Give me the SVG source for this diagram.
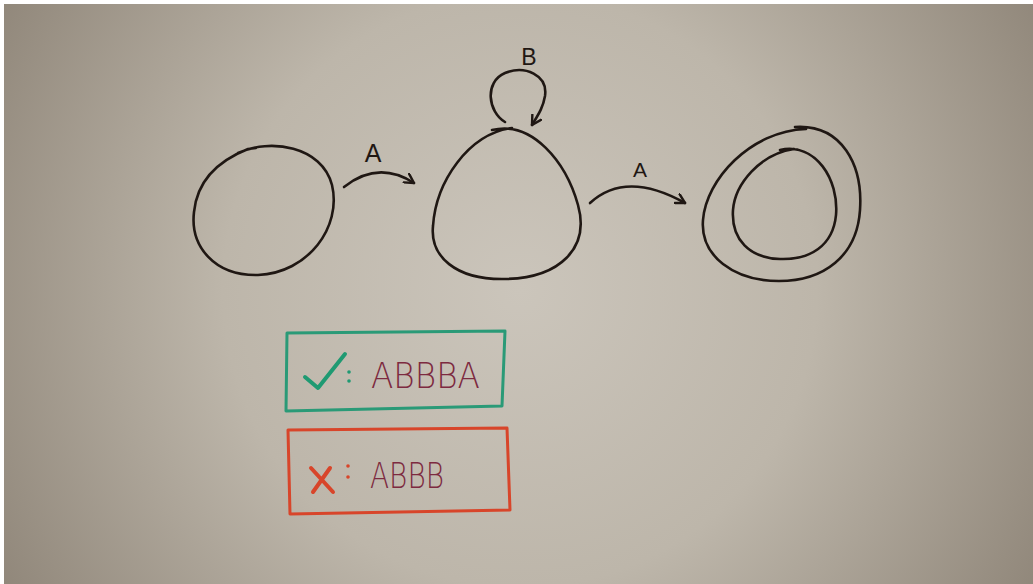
<svg xmlns="http://www.w3.org/2000/svg" width="1033" height="584" viewBox="0 0 1033 584">
<style>
.ink{fill:none;stroke:#1f1713;stroke-width:2.6;stroke-linecap:round;stroke-linejoin:round}
.lbl{font-family:"Liberation Sans",Arial,sans-serif;fill:#1f1713}
.word{font-family:"DejaVu Sans","Liberation Sans",Arial,sans-serif;font-weight:200;fill:#7d2a40;font-size:36px}
.okc{fill:#1f9a72}
.noc{fill:#d8452a}
</style>
<defs>
<radialGradient id="bg" gradientUnits="userSpaceOnUse" cx="520" cy="290" r="660">
<stop offset="0" stop-color="#cbc5bb"/>
<stop offset="0.45" stop-color="#bdb6aa"/>
<stop offset="1" stop-color="#877d70"/>
</radialGradient>
<marker id="ah" viewBox="0 0 12 12" refX="10" refY="6" markerWidth="12" markerHeight="12" markerUnits="userSpaceOnUse" orient="auto">
<path d="M1,1 L10,6 L1,11" fill="none" stroke="#1f1713" stroke-width="2.4" stroke-linecap="round" stroke-linejoin="round"/>
</marker>
</defs>
<rect x="0" y="0" width="1033" height="584" fill="#ffffff"/>
<rect x="4" y="4" width="1029" height="580" fill="url(#bg)"/>

<g id="node-start">
<path class="ink" d="M238,153 C270,138 322,146 332,185 C342,227 308,273 258,275 C214,276 190,246 194,212 C197,182 215,162 248,149 L256,148"/>
</g>
<g id="node-middle">
<path class="ink" d="M492,130 C532,120 566,162 578,205 C590,248 560,278 505,279 C455,280 430,256 433,226 C436,182 468,134 512,128"/>
</g>
<g id="node-accept">
<path class="ink" d="M795,127 C842,124 863,165 860,210 C857,256 824,281 779,281 C734,281 700,256 703,220 C706,180 750,131 806,129"/>
<path class="ink" d="M780,150 C816,142 839,180 836,215 C833,246 810,260 780,259 C750,258 731,240 733,210 C735,184 760,154 794,149"/>
</g>

<g id="connectors">
<path class="ink" d="M344,187 Q378,160 414,183" marker-end="url(#ah)"/>
<path class="ink" d="M590,203 Q626,170 685,203" marker-end="url(#ah)"/>
<path class="ink" d="M505,122 C488,112 484,82 505,73 C525,65 548,75 545,96 C543,108 538,115 532,125" marker-end="url(#ah)"/>
</g>

<g id="labels">
<text class="lbl" x="373" y="162" font-size="25" text-anchor="middle">A</text>
<text class="lbl" x="529" y="65" font-size="23" text-anchor="middle">B</text>
<text class="lbl" x="640" y="177" font-size="21" text-anchor="middle">A</text>
</g>

<g id="accepted-box">
<path d="M287,333 L505,331 L502,406 L286,411 Z" fill="none" stroke="#2a9a77" stroke-width="3" stroke-linejoin="round"/>
<path d="M305,377 L318,388 L345,354" fill="none" stroke="#1f9a72" stroke-width="4" stroke-linecap="round" stroke-linejoin="round"/>
<circle class="okc" cx="349" cy="372" r="1.8"/>
<circle class="okc" cx="349" cy="381" r="1.8"/>
<text class="word" x="371" y="388" textLength="109" lengthAdjust="spacingAndGlyphs">ABBBA</text>
</g>

<g id="rejected-box">
<path d="M288,430 L507,428 L510,510 L290,514 Z" fill="none" stroke="#d8452a" stroke-width="3" stroke-linejoin="round"/>
<path d="M311,468 L333,492 M330,468 L313,492" fill="none" stroke="#d8452a" stroke-width="4" stroke-linecap="round"/>
<circle class="noc" cx="348" cy="466" r="1.8"/>
<circle class="noc" cx="348" cy="477" r="1.8"/>
<text class="word" x="370" y="488" font-size="35" textLength="74" lengthAdjust="spacingAndGlyphs">ABBB</text>
</g>
</svg>
